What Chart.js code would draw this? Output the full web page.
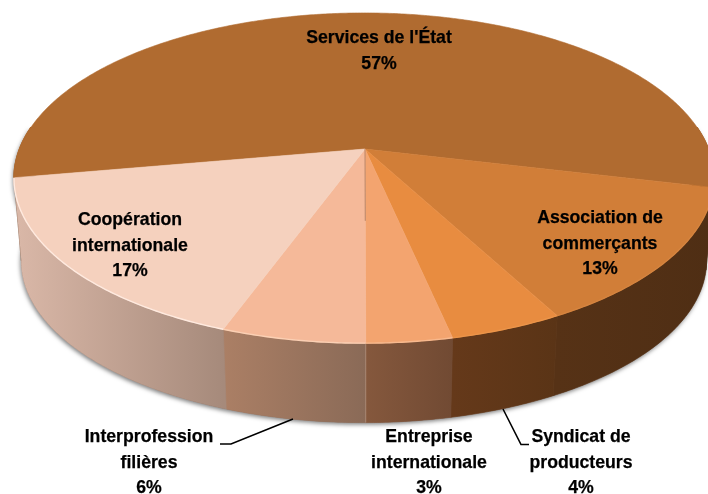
<!DOCTYPE html>
<html lang="fr">
<head>
<meta charset="utf-8">
<title>Répartition</title>
<script src="https://cdn.jsdelivr.net/npm/chart.js@4"></script>
<style>
  html, body { margin: 0; padding: 0; background: #fff; }
  canvas { display: block; }
</style>
</head>
<body>
<canvas id="pie" width="708" height="494"></canvas>
<script>
/* ---------- DATA ---------- */
const categories = [
  "Services de l'État",
  "Association de\ncommerçants",
  "Syndicat de\nproducteurs",
  "Entreprise\ninternationale",
  "Interprofession\nfilières",
  "Coopération\ninternationale"
];
const shares = [56.5, 13.45, 4.45, 3.35, 5.6, 16.65];
const topColors = ["#b06b30", "#d17e38", "#e88c40", "#f3a46f", "#f5b999", "#f5d1be"];
const wallLeft = ["#4f2e14", "#563216", "#65391a", "#85583d", "#ab7f65", "#dab8a8"];
const wallRight = ["#4f2e14", "#4f2e14", "#5a3416", "#714a33", "#8a6a57", "#a68a7b"];
const rimColors = ["#b06b30", "#d5843f", "#eb9449", "#f8b98e", "#fbd0b4", "#ffeadf"];

/* ---------- GEOMETRY OF THE TILTED DISC ---------- */
const apexX = 365, apexY = 149;
const radiusX = 344.5, radiusY = 160, tilt = 0.176, skew = -0.003;
const wallShrink = 0.979, wallDrop = 83.5;

function rimPoint(angle) {
  const d = 1 - tilt * Math.sin(angle) - skew * Math.cos(angle);
  return {
    x: apexX + radiusX * Math.cos(angle) / d,
    y: apexY + radiusY * Math.sin(angle) / d
  };
}

function floorPoint(angle) {
  const p = rimPoint(angle);
  return {
    x: apexX + (p.x - apexX) * wallShrink,
    y: apexY + (p.y - apexY) * wallShrink + wallDrop
  };
}

function sampleAngles(a0, a1) {
  const out = [];
  const n = Math.max(2, Math.ceil((a1 - a0) / 0.01));
  for (let i = 0; i <= n; i++) out.push(a0 + (a1 - a0) * i / n);
  return out;
}

/* only the part of a slice facing the viewer gets a wall */
function visibleRanges(start, end) {
  const lo = -8 * Math.PI / 180, hi = 188 * Math.PI / 180;
  const ranges = [];
  for (let k = -1; k <= 1; k++) {
    const a0 = Math.max(start + k * 2 * Math.PI, lo);
    const a1 = Math.min(end + k * 2 * Math.PI, hi);
    if (a1 > a0) ranges.push([a0, a1]);
  }
  return ranges;
}

function wallPath(ctx, a0, a1) {
  const angles = sampleAngles(a0, a1);
  ctx.beginPath();
  angles.forEach((a, i) => {
    const p = rimPoint(a);
    if (i === 0) ctx.moveTo(p.x, p.y); else ctx.lineTo(p.x, p.y);
  });
  angles.reverse().forEach(a => {
    const p = floorPoint(a);
    ctx.lineTo(p.x, p.y);
  });
  ctx.closePath();
}

/* ---------- DRAWING ---------- */
const tiltedPie = {
  id: "tiltedPie",
  beforeDatasetDraw(chart, args) {
    const ctx = chart.ctx;
    const arcs = args.meta.data;
    ctx.save();

    /* soft shadow under the whole wall */
    ctx.save();
    ctx.shadowColor = "rgba(0,0,0,0.5)";
    ctx.shadowBlur = 4;
    ctx.shadowOffsetX = -1;
    ctx.shadowOffsetY = 2;
    ctx.fillStyle = "#8a6a57";
    wallPath(ctx, -8 * Math.PI / 180, 188 * Math.PI / 180);
    ctx.fill();
    ctx.restore();

    /* walls, gradient runs left to right on screen */
    arcs.forEach((arc, i) => {
      visibleRanges(arc.startAngle, arc.endAngle).forEach(([a0, a1]) => {
        const x0 = rimPoint(a1).x, x1 = rimPoint(a0).x;
        const g = ctx.createLinearGradient(Math.min(x0, x1), 0, Math.max(x0, x1), 0);
        g.addColorStop(0, wallLeft[i]);
        g.addColorStop(1, wallRight[i]);
        ctx.fillStyle = g;
        ctx.strokeStyle = g;
        ctx.lineWidth = 0.6;
        wallPath(ctx, a0, a1);
        ctx.fill();
        ctx.stroke();
      });
    });

    /* top face */
    arcs.forEach((arc, i) => {
      ctx.beginPath();
      ctx.moveTo(apexX, apexY);
      sampleAngles(arc.startAngle, arc.endAngle).forEach(a => {
        const p = rimPoint(a);
        ctx.lineTo(p.x, p.y);
      });
      ctx.closePath();
      ctx.fillStyle = topColors[i];
      ctx.strokeStyle = topColors[i];
      ctx.lineWidth = 0.6;
      ctx.fill();
      ctx.stroke();
    });

    /* lit rim along the front edge */
    arcs.forEach((arc, i) => {
      visibleRanges(arc.startAngle, arc.endAngle).forEach(([a0, a1]) => {
        ctx.beginPath();
        sampleAngles(a0, a1).forEach((a, j) => {
          const p = rimPoint(a);
          if (j === 0) ctx.moveTo(p.x, p.y); else ctx.lineTo(p.x, p.y);
        });
        ctx.strokeStyle = rimColors[i];
        ctx.lineWidth = 1.4;
        ctx.stroke();
      });
    });

    /* seam between slices 3 and 4 from the front */
    const seam = arcs[3].endAngle;
    const top = rimPoint(seam);
    ctx.beginPath();
    ctx.moveTo(apexX, apexY);
    ctx.lineTo(apexX + (top.x - apexX) * 0.37, apexY + (top.y - apexY) * 0.37);
    ctx.strokeStyle = "rgba(170,120,90,0.8)";
    ctx.lineWidth = 1;
    ctx.stroke();
    const bottom = floorPoint(seam);
    ctx.beginPath();
    ctx.moveTo(top.x, top.y + 1);
    ctx.lineTo(bottom.x, bottom.y);
    ctx.strokeStyle = "rgba(200,165,145,0.5)";
    ctx.stroke();

    ctx.restore();
    return false;
  },
  afterDraw(chart) {
    const ctx = chart.ctx;
    ctx.save();

    /* leader lines */
    ctx.strokeStyle = "#000";
    ctx.lineWidth = 1.6;
    leaderLines.forEach(line => {
      ctx.beginPath();
      line.forEach(([x, y], i) => {
        if (i === 0) ctx.moveTo(x, y); else ctx.lineTo(x, y);
      });
      ctx.stroke();
    });

    /* labels, the reference type is a little condensed */
    ctx.font = "bold 18.5px 'Liberation Sans', Arial, sans-serif";
    ctx.fillStyle = "#000";
    ctx.strokeStyle = "#000";
    ctx.lineWidth = 0.25;
    ctx.textAlign = "center";
    ctx.textBaseline = "middle";
    categories.forEach((name, i) => {
      const lines = name.split("\n").concat(Math.round(shares[i]) + "%");
      const [x, y] = labelAnchors[i];
      lines.forEach((text, j) => {
        ctx.save();
        ctx.translate(x, y + j * labelLeading);
        ctx.scale(0.955, 1);
        ctx.fillText(text, 0, 0);
        ctx.strokeText(text, 0, 0);
        ctx.restore();
      });
    });
    ctx.restore();
  }
};

/* ---------- LABEL PLACEMENT ---------- */
const labelLeading = 25.5;
const labelAnchors = [[379, 38], [600, 218], [581, 437], [429, 437], [149, 437], [130, 220]];
const leaderLines = [
  [[293, 419], [231, 444], [220, 444]],
  [[503, 409], [521, 444.5], [529, 444.5]]
];

/* ---------- CHART ---------- */
new Chart(document.getElementById("pie"), {
  type: "pie",
  data: {
    labels: categories,
    datasets: [{ data: shares, backgroundColor: topColors, borderWidth: 0 }]
  },
  options: {
    responsive: false,
    animation: false,
    rotation: 260,
    plugins: { legend: { display: false }, tooltip: { enabled: false } }
  },
  plugins: [tiltedPie]
});
</script>
</body>
</html>
